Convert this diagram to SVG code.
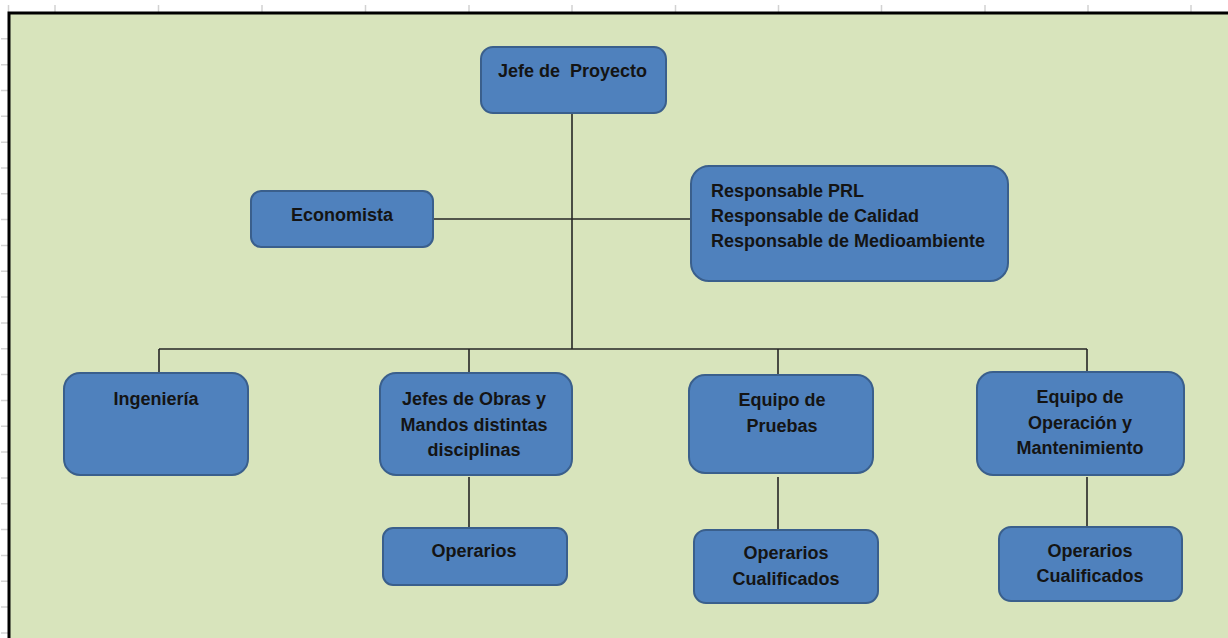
<svg xmlns="http://www.w3.org/2000/svg" width="1228" height="638" viewBox="0 0 1228 638">
<style>
.box{fill:#4f81bd;stroke:#3a5f8c;stroke-width:2}
.t{font-family:"Liberation Sans",Arial,sans-serif;font-weight:bold;font-size:18px;fill:#141414}
.c{text-anchor:middle}
.ln{stroke:#262626;stroke-width:1.6;fill:none}
.tick{stroke:#d2d2d2;stroke-width:1.5}
</style>
<rect x="0" y="0" width="1228" height="638" fill="#ffffff"/>
<g id="grid">
<path class="tick" d="M8.5 5V12M55 5V12M158.5 5V12M262 5V12M365.5 5V12M469 5V12M572 5V12M675.5 5V12M778.5 5V12M881.5 5V12M985 5V12M1088 5V12M1191 5V12"/>
<path class="tick" d="M1 38.8H8M1 64.7H8M1 90.5H8M1 116.3H8M1 142.2H8M1 168H8M1 193.8H8M1 219.6H8M1 245.5H8M1 271.3H8M1 297.1H8M1 323H8M1 348.8H8M1 374.6H8M1 400.5H8M1 426.3H8M1 452.1H8M1 478H8M1 503.8H8M1 529.6H8M1 555.4H8M1 581.3H8M1 607.1H8M1 633H8"/>
</g>
<rect id="background" x="9" y="13" width="1230" height="640" fill="#d8e4bc" stroke="#000" stroke-width="3"/>
<g id="connectors">
<path class="ln" d="M572 113V349"/>
<path class="ln" d="M433 219H691"/>
<path class="ln" d="M159 349H1087"/>
<path class="ln" d="M159 349V373M469 349V373M778 349V375M1087 349V372"/>
<path class="ln" d="M469 477V528M778 477V530M1087 477V527"/>
</g>
<g id="jefe-proyecto">
<rect class="box" x="481" y="47" width="185" height="66" rx="12"/>
<text class="t c" x="572.5" y="77" xml:space="preserve">Jefe de  Proyecto</text>
</g>
<g id="economista">
<rect class="box" x="251" y="191" width="182" height="56" rx="10"/>
<text class="t c" x="342" y="221">Economista</text>
</g>
<g id="responsables">
<rect class="box" x="691" y="166" width="317" height="115" rx="18"/>
<text class="t" x="711" y="197">Responsable PRL</text>
<text class="t" x="711" y="222">Responsable de Calidad</text>
<text class="t" x="711" y="247">Responsable de Medioambiente</text>
</g>
<g id="ingenieria">
<rect class="box" x="64" y="373" width="184" height="102" rx="16"/>
<text class="t c" x="156" y="405">Ingeniería</text>
</g>
<g id="jefes-obras">
<rect class="box" x="380" y="373" width="192" height="102" rx="16"/>
<text class="t c" x="474" y="405">Jefes de Obras y</text>
<text class="t c" x="474" y="431">Mandos distintas</text>
<text class="t c" x="474" y="456">disciplinas</text>
</g>
<g id="equipo-pruebas">
<rect class="box" x="689" y="375" width="184" height="98" rx="16"/>
<text class="t c" x="782" y="406">Equipo de</text>
<text class="t c" x="782" y="432">Pruebas</text>
</g>
<g id="equipo-operacion">
<rect class="box" x="977" y="372" width="207" height="103" rx="16"/>
<text class="t c" x="1080" y="403">Equipo de</text>
<text class="t c" x="1080" y="429">Operación y</text>
<text class="t c" x="1080" y="454">Mantenimiento</text>
</g>
<g id="operarios">
<rect class="box" x="383" y="528" width="184" height="57" rx="10"/>
<text class="t c" x="474" y="557">Operarios</text>
</g>
<g id="operarios-cualificados-pruebas">
<rect class="box" x="694" y="530" width="184" height="73" rx="12"/>
<text class="t c" x="786" y="559">Operarios</text>
<text class="t c" x="786" y="585">Cualificados</text>
</g>
<g id="operarios-cualificados-operacion">
<rect class="box" x="999" y="527" width="183" height="74" rx="12"/>
<text class="t c" x="1090" y="557">Operarios</text>
<text class="t c" x="1090" y="582">Cualificados</text>
</g>
</svg>
